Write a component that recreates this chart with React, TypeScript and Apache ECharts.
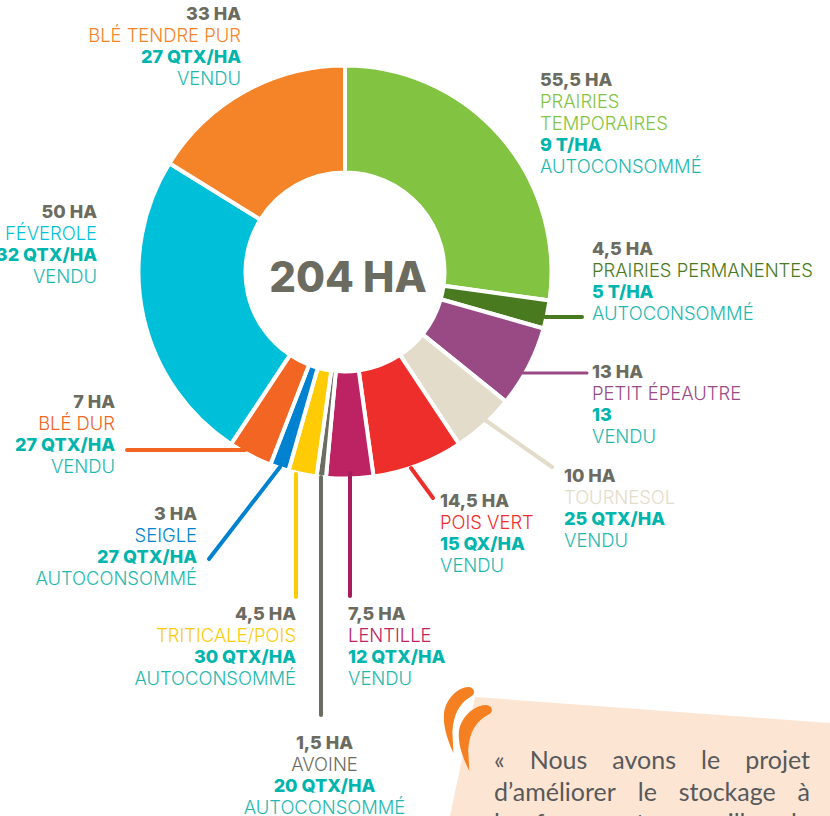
import React, { useEffect, useRef } from "react";
import * as echarts from "echarts";

const crops = ["PRAIRIES\nTEMPORAIRES", "PRAIRIES PERMANENTES", "PETIT ÉPEAUTRE", "TOURNESOL", "POIS VERT", "LENTILLE", "AVOINE", "TRITICALE/POIS", "SEIGLE", "BLÉ DUR", "FÉVEROLE", "BLÉ TENDRE PUR"];
const hectares = [55.5, 4.5, 13, 10, 14.5, 7.5, 1.5, 4.5, 3, 7, 50, 33];
const yields = ["9 T/HA", "5 T/HA", "13", "25 QTX/HA", "15 QX/HA", "12 QTX/HA", "20 QTX/HA", "30 QTX/HA", "27 QTX/HA", "27 QTX/HA", "32 QTX/HA", "27 QTX/HA"];
const uses = ["AUTOCONSOMMÉ", "AUTOCONSOMMÉ", "VENDU", "VENDU", "VENDU", "VENDU", "AUTOCONSOMMÉ", "AUTOCONSOMMÉ", "AUTOCONSOMMÉ", "VENDU", "VENDU", "VENDU"];
const totalLabel = "204 HA";
const colors = ["#82c341", "#4a7a20", "#994a84", "#e3dccb", "#ee2e2a", "#bd2263", "#6b6d63", "#ffcb05", "#0082d0", "#f26522", "#00bfd8", "#f58428"];
const leaderColors = ["", "#4a7a20", "#994a84", "#e3dccb", "#ee2e2a", "#a81c5c", "#6b6d63", "#ffcb05", "#0082d0", "#f26522", "", ""];
const quoteLines = [
  ["«", "Nous", "avons", "le", "projet"],
  ["d’améliorer", "le", "stockage", "à"],
  ["la", "ferme", "et", "surveiller", "le"],
];

// Layout (separate from data)
const labelBoxes: [number, number, string][] = [
  [540, 69, "left"], [592, 238, "left"], [592, 360.5, "left"], [564, 465, "left"],
  [440, 490, "left"], [348, 603, "left"], [324.5, 732, "center"], [296, 603, "right"],
  [197, 503, "right"], [115, 390.5, "right"], [97, 200.5, "right"], [241, 2.5, "right"],
];
const leaders: number[][] = [
  [], [545, 317, 582, 317, 4], [523, 373, 587, 373, 3], [485, 420, 552, 467, 4], [411, 468, 433, 498, 4],
  [350, 473, 350, 596, 4], [321, 477, 321, 715, 4], [296, 474, 296, 597, 4], [280, 467, 209, 559, 4], [245, 450, 127, 450, 4], [], [],
];
const LINE = 21.5;
const FONT = "Inter";

const QUOTE_D = "M23 0 C29 0 31 7 25 10 C14 17 9 28 8 45 L9 66 C2 50 -1 37 0 26 C2 12 12 1 23 0 Z";
echarts.graphic.registerShape("quoteMark", echarts.graphic.extendPath(QUOTE_D, {}) as any);

export default function App() {
  const ref = useRef<HTMLDivElement>(null);
  useEffect(() => {
    const chart = echarts.init(ref.current!, null, { renderer: "svg" });
    const rich: any = {};
    colors.forEach((c, i) => {
      const align = labelBoxes[i][2];
      rich["ha" + i] = { fontFamily: FONT, fontWeight: 800, fontSize: 18, color: "#6b6b60", lineHeight: LINE, align };
      rich["n" + i] = { fontFamily: FONT, fontWeight: 300, fontSize: 18.4, color: c, lineHeight: LINE, align };
      rich["y" + i] = { fontFamily: FONT, fontWeight: 800, fontSize: 18, color: "#00b5ad", lineHeight: LINE, align };
      rich["u" + i] = { fontFamily: FONT, fontWeight: 300, fontSize: 18.4, color: "#1fb8b0", lineHeight: LINE, align };
    });
    const data = hectares.map((v, i) => ({ value: v, name: crops[i], itemStyle: { color: colors[i] } }));
    const graphics: any[] = [
      {
        type: "polygon", z: 1,
        shape: { points: [[475, 697], [830, 723], [830, 816], [450, 816]] },
        style: { fill: "#fde5d3" },
      },
      { type: "quoteMark", x: 444, y: 687, scaleX: 1.05, z: 2, style: { fill: "#f58021" } },
      { type: "quoteMark", x: 459, y: 705, scaleX: 1.15, z: 2, style: { fill: "#f58021" } },
    ];
    leaders.forEach((l, i) => {
      if (l.length)
        graphics.push({
          type: "line", z: 3,
          shape: { x1: l[0], y1: l[1], x2: l[2], y2: l[3] },
          style: { stroke: leaderColors[i], lineWidth: l[4], lineCap: "round" },
        });
    });
    const xSpans = [[494, 810], [494, 810], [494, 810]];
    const tmpCtx = document.createElement("canvas").getContext("2d")!;
    tmpCtx.font = "25px Lato";
    quoteLines.forEach((words, li) => {
      const widths = words.map((w) => tmpCtx.measureText(w).width);
      const sum = widths.reduce((a, b) => a + b, 0);
      const gap = (xSpans[li][1] - xSpans[li][0] - sum) / (words.length - 1);
      let x = xSpans[li][0];
      words.forEach((w, wi) => {
        graphics.push({
          type: "text", x, y: 759 + li * 31.5, z: 4,
          style: { text: w, fontFamily: "Lato", fontSize: 25, fill: "#58595b", verticalAlign: "middle" },
        });
        x += widths[wi] + gap;
      });
    });
    chart.setOption({
      animation: false,
      title: {
        text: totalLabel, left: 343, top: 271, textAlign: "center", textVerticalAlign: "middle",
        textStyle: { fontFamily: FONT, fontWeight: 800, fontSize: 42, color: "#6b6b60" },
      },
      graphic: graphics,
      series: [{
        type: "pie",
        z: 2,
        center: [345, 272],
        radius: [99.5, 206.5],
        startAngle: 90,
        clockwise: true,
        avoidLabelOverlap: false,
        itemStyle: { borderColor: "#ffffff", borderWidth: 4 },
        emphasis: { disabled: true },
        labelLine: { show: false },
        label: {
          show: true,
          position: "outside",
          formatter: (p: any) => {
            const i = p.dataIndex;
            const ha = String(hectares[i]).replace(".", ",") + " HA";
            const nameLines = crops[i].split("\n").map((s) => `{n${i}|${s}}`);
            return [`{ha${i}|${ha}}`, ...nameLines, `{y${i}|${yields[i]}}`, `{u${i}|${uses[i]}}`].join("\n");
          },
          rich,
        },
        labelLayout: (p: any) => {
          const b = labelBoxes[p.dataIndex];
          return { x: b[0], y: b[1], align: b[2], verticalAlign: "top", hideOverlap: false };
        },
        data,
      }],
    });
    return () => chart.dispose();
  }, []);
  return <div ref={ref} style={{ position: "absolute", left: 0, top: 0, width: 830, height: 816, overflow: "hidden" }} />;
}
